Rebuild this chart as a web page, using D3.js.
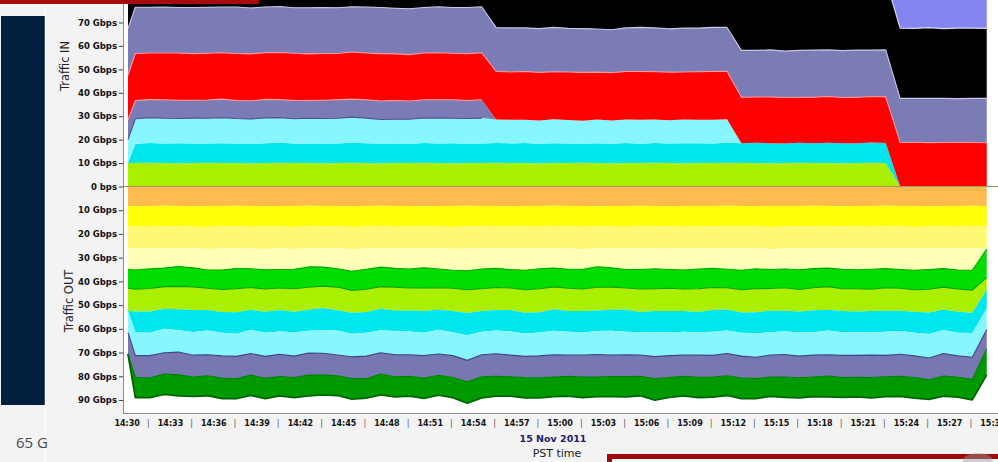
<!DOCTYPE html>
<html>
<head>
<meta charset="utf-8">
<script src="https://cdnjs.cloudflare.com/ajax/libs/d3/7.8.5/d3.min.js"></script>
<style>
  html, body { margin: 0; padding: 0; background: #f3f3f3; overflow: hidden; }
  svg { display: block; }
  .axis text { font-family: "DejaVu Sans", sans-serif; font-weight: bold; fill: #111; }
</style>
</head>
<body>
<svg width="998" height="462"></svg>
<script>
// sample times, minutes after 14:30 (15 Nov 2011, PST)
const minutes = [0.09,
  0.6, 1.6, 2.6, 3.6, 4.6, 5.6, 6.6, 7.6, 8.6, 9.6,
  10.6, 11.6, 12.6, 13.6, 14.6, 15.6, 16.6, 17.6, 18.6, 19.6,
  20.6, 21.6, 22.6, 23.6, 24.6, 25.6, 26.6, 27.6, 28.6, 29.6,
  30.6, 31.6, 32.6, 33.6, 34.6, 35.6, 36.6, 37.6, 38.6, 39.6,
  40.6, 41.6, 42.6, 43.6, 44.6, 45.6, 46.6, 47.6, 48.6, 49.6,
  50.6, 51.6, 52.6, 53.6, 54.6, 55.6, 56.6, 57.6, 58.6, 59.6];

// Traffic IN, Gbps per stacked layer (bottom to top)
const inLime = [10.0,
  10.0, 10.1, 10.0, 9.9, 10.0, 10.1, 10.0, 10.0, 9.9, 10.0,
  10.1, 10.0, 10.0, 9.9, 10.0, 10.1, 10.0, 9.9, 10.0, 10.0,
  10.1, 10.0, 9.9, 10.0, 10.0, 10.1, 10.0, 10.0, 9.9, 10.0,
  10.0, 10.1, 10.0, 9.9, 10.0, 10.0, 10.1, 10.0, 9.9, 10.0,
  10.0, 10.1, 10.0, 10.0, 9.9, 10.0, 10.1, 10.0, 10.0, 9.9,
  10.0, 10.1, 10.0, 0, 0, 0, 0, 0, 0, 0];
const inCyan = [0,
  8.3, 8.5, 8.4, 8.6, 8.4, 8.3, 8.5, 8.4, 8.2, 8.5,
  8.6, 8.4, 8.3, 8.5, 8.4, 8.6, 8.5, 8.3, 8.4, 8.2,
  8.5, 8.4, 8.6, 8.3, 8.4, 8.5, 8.4, 8.6, 8.3, 8.5,
  8.4, 8.2, 8.5, 8.4, 8.6, 8.3, 8.5, 8.4, 8.6, 8.5,
  8.4, 8.6, 8.5, 8.7, 8.6, 8.4, 8.6, 8.5, 8.7, 8.6,
  8.5, 8.7, 8.6, 0, 0, 0, 0, 0, 0, 0];
const inLightCyan = [10.0,
  10.6, 10.8, 10.7, 10.5, 10.8, 10.7, 10.9, 10.6, 10.7, 10.8,
  10.7, 10.5, 10.8, 10.6, 10.7, 10.9, 10.7, 10.4, 10.3, 10.5,
  10.7, 10.8, 10.6, 10.7, 10.8, 10.0, 10.1, 9.9, 10.0, 10.2,
  10.0, 9.8, 10.1, 9.9, 10.0, 10.2, 10.0, 9.9, 10.1, 10.0,
  10.1, 10.0, 0, 0, 0, 0, 0, 0, 0, 0,
  0, 0, 0, 0, 0, 0, 0, 0, 0, 0];
const inSlateLow = [8.5,
  7.8, 7.7, 7.9, 7.8, 7.6, 7.8, 7.9, 7.7, 7.8, 7.9,
  7.7, 7.8, 7.6, 7.8, 7.9, 7.7, 7.8, 7.9, 8.0, 7.8,
  7.7, 7.8, 7.9, 7.7, 7.8, 0, 0, 0, 0, 0,
  0, 0, 0, 0, 0, 0, 0, 0, 0, 0,
  0, 0, 0, 0, 0, 0, 0, 0, 0, 0,
  0, 0, 0, 0, 0, 0, 0, 0, 0, 0];
const inRed = [19.0,
  20.1, 19.9, 20.0, 20.2, 19.9, 20.0, 19.8, 20.1, 20.0, 19.9,
  20.1, 20.2, 19.9, 20.0, 19.8, 20.1, 20.0, 20.2, 19.9, 19.8,
  20.0, 20.1, 19.9, 20.0, 20.1, 20.5, 20.4, 20.6, 20.5, 20.3,
  20.5, 20.6, 20.2, 20.4, 20.5, 20.6, 20.4, 20.5, 20.3, 20.5,
  20.6, 20.5, 19.6, 19.5, 19.7, 19.6, 19.4, 19.6, 19.7, 19.5,
  19.6, 19.5, 19.7, 18.8, 18.9, 18.7, 18.8, 18.9, 18.8, 18.7];
const inSlateHigh = [20.0,
  19.7, 19.5, 19.6, 19.4, 19.7, 19.6, 19.5, 19.8, 19.6, 19.5,
  19.6, 19.4, 19.7, 19.6, 19.5, 19.3, 19.6, 19.7, 19.5, 19.6,
  19.4, 19.6, 19.5, 19.7, 19.6, 18.7, 18.8, 18.6, 18.7, 18.9,
  18.6, 18.7, 18.4, 18.3, 18.6, 18.8, 18.7, 18.5, 18.7, 18.6,
  18.8, 18.7, 20.0, 19.9, 20.1, 19.8, 20.0, 20.1, 19.9, 20.0,
  20.1, 19.9, 20.0, 18.8, 18.7, 18.9, 18.8, 18.6, 18.8, 18.9];
const inBlack = [30.0,
  30.0, 30.0, 30.0, 30.0, 30.0, 30.0, 30.0, 30.0, 30.0, 30.0,
  30.0, 30.0, 30.0, 30.0, 30.0, 30.0, 30.0, 30.0, 30.0, 30.0,
  30.0, 30.0, 30.0, 30.0, 30.0, 30.0, 30.0, 30.0, 30.0, 30.0,
  30.0, 30.0, 30.0, 30.0, 30.0, 30.0, 30.0, 30.0, 30.0, 30.0,
  30.0, 30.0, 30.0, 30.0, 30.0, 30.0, 30.0, 30.0, 30.0, 30.0,
  30.0, 30.0, 30.0, 30.0, 29.9, 30.2, 29.8, 30.1, 30.0, 29.9];
const inBlue = [25,
  25, 25, 25, 25, 25, 25, 25, 25, 25, 25,
  25, 25, 25, 25, 25, 25, 25, 25, 25, 25,
  25, 25, 25, 25, 25, 25, 25, 25, 25, 25,
  25, 25, 25, 25, 25, 25, 25, 25, 25, 25,
  25, 25, 25, 25, 25, 25, 25, 25, 25, 25,
  25, 25, 25, 25, 25, 25, 25, 25, 25, 25];

// Traffic OUT, Gbps per stacked layer (from 0 downwards)
const outOrange = [8.2,
  8.3, 8.2, 8.1, 8.2, 8.3, 8.2, 8.2, 8.1, 8.2, 8.3,
  8.2, 8.2, 8.1, 8.2, 8.2, 8.3, 8.2, 8.1, 8.2, 8.2,
  8.3, 8.2, 8.2, 8.1, 8.2, 8.2, 8.3, 8.2, 8.2, 8.1,
  8.2, 8.2, 8.3, 8.2, 8.2, 8.1, 8.2, 8.3, 8.2, 8.2,
  8.2, 8.1, 8.2, 8.3, 8.2, 8.2, 8.2, 8.1, 8.2, 8.3,
  8.2, 8.2, 8.1, 8.2, 8.2, 8.3, 8.2, 8.2, 8.1, 8.2];
const outYellow = [8.7,
  8.6, 8.8, 8.7, 8.5, 8.7, 8.9, 8.6, 8.7, 8.8, 8.6,
  8.7, 8.9, 8.6, 8.7, 8.5, 8.8, 8.7, 8.6, 8.8, 8.7,
  8.6, 8.7, 8.9, 8.7, 8.6, 8.8, 8.5, 8.7, 8.8, 8.6,
  8.7, 8.8, 8.6, 8.7, 8.9, 8.6, 8.7, 8.5, 8.8, 8.7,
  8.6, 8.8, 8.7, 8.6, 8.9, 8.7, 8.6, 8.8, 8.7, 8.5,
  8.7, 8.8, 8.6, 8.7, 8.9, 8.6, 8.7, 8.8, 8.6, 8.7];
const outLightYellow = [9.2,
  9.3, 9.1, 9.2, 9.4, 9.0, 9.2, 9.3, 9.1, 9.2, 9.4,
  9.1, 9.2, 9.3, 9.0, 9.2, 9.4, 9.1, 9.3, 9.2, 9.0,
  9.3, 9.2, 9.1, 9.4, 9.2, 9.0, 9.3, 9.2, 9.1, 9.3,
  9.2, 9.4, 9.1, 9.2, 9.0, 9.3, 9.2, 9.4, 9.1, 9.2,
  9.3, 9.1, 9.2, 9.0, 9.4, 9.2, 9.3, 9.1, 9.2, 9.3,
  9.1, 9.2, 9.4, 9.2, 9.0, 9.3, 9.1, 9.2, 9.3, 9.2];
const outPale = [8.8,
  9.0, 8.6, 8.4, 7.6, 8.3, 8.9, 9.1, 8.7, 8.5, 8.8,
  9.0, 8.6, 7.9, 8.1, 8.8, 9.2, 8.9, 8.0, 8.3, 8.9,
  8.1, 8.7, 9.1, 9.3, 8.8, 8.5, 8.9, 9.2, 8.6, 8.4,
  8.8, 8.5, 7.8, 8.2, 8.9, 9.0, 8.6, 8.8, 9.1, 8.7,
  8.4, 8.9, 9.2, 8.8, 8.5, 8.7, 9.0, 8.6, 8.3, 8.8,
  9.1, 8.7, 8.5, 8.9, 9.2, 8.8, 8.6, 9.0, 9.3, 0.3];
const outGreen = [8.0,
  8.1, 8.3, 7.8, 8.4, 8.0, 7.7, 8.2, 8.5, 7.9, 8.1,
  7.8, 8.2, 8.6, 8.0, 7.7, 8.1, 8.4, 8.2, 7.9, 8.0,
  8.5, 7.9, 7.6, 8.0, 8.3, 8.1, 7.8, 8.2, 8.4, 7.9,
  8.0, 8.3, 8.7, 8.1, 7.8, 8.2, 8.4, 7.9, 8.0, 8.3,
  8.1, 7.8, 8.2, 8.4, 8.0, 7.9, 8.3, 8.1, 7.8, 8.2,
  8.0, 8.4, 8.1, 7.9, 8.2, 8.3, 7.8, 8.0, 8.4, 12.0];
const outLime = [9.5,
  9.4, 9.7, 9.3, 9.6, 9.8, 9.2, 9.5, 9.9, 9.4, 9.6,
  9.3, 9.7, 9.5, 9.2, 9.8, 9.4, 9.6, 9.3, 9.9, 9.5,
  9.7, 9.2, 9.6, 9.8, 9.4, 9.5, 9.3, 9.7, 9.9, 9.4,
  9.6, 9.3, 9.8, 9.5, 9.2, 9.7, 9.4, 9.6, 9.3, 9.8,
  9.5, 9.2, 9.6, 9.9, 9.4, 9.7, 9.3, 9.5, 9.8, 9.4,
  9.6, 9.2, 9.7, 9.5, 9.3, 9.8, 9.4, 9.6, 9.5, 5.0];
const outCyan = [0.0,
  8.7, 9.0, 8.5, 8.9, 9.2, 8.6, 8.8, 9.1, 8.4, 8.9,
  9.0, 8.6, 8.8, 9.3, 8.5, 8.9, 8.7, 9.1, 8.6, 8.8,
  9.2, 8.5, 8.9, 9.4, 8.7, 8.6, 9.0, 8.8, 8.5, 9.1,
  8.7, 9.0, 8.6, 8.9, 9.2, 8.5, 8.8, 9.0, 8.7, 8.6,
  9.1, 8.8, 8.5, 8.9, 9.0, 8.6, 8.8, 9.2, 8.7, 8.9,
  8.6, 9.0, 8.8, 8.5, 8.9, 9.1, 8.7, 8.8, 8.6, 8.0];
const outLightCyan = [9.2,
  9.9, 9.6, 10.1, 9.2, 9.8, 10.2, 9.7, 9.5, 10.0, 9.9,
  9.6, 10.1, 9.4, 9.8, 10.3, 9.7, 9.9, 9.5, 10.0, 9.8,
  9.6, 10.2, 9.9, 10.6, 9.7, 9.8, 10.0, 9.6, 9.9, 10.1,
  9.8, 9.5, 9.9, 10.2, 9.7, 9.6, 10.4, 9.8, 9.9, 9.6,
  10.0, 9.7, 9.9, 10.1, 9.6, 9.8, 10.0, 9.7, 10.2, 9.8,
  9.9, 9.6, 10.0, 9.8, 9.7, 10.1, 9.9, 9.8, 10.2, 9.0];
const outSlate = [9.0,
  9.1, 9.4, 9.0, 9.6, 9.2, 8.9, 9.3, 9.5, 9.1, 9.2,
  9.4, 9.0, 9.3, 9.1, 8.8, 9.2, 9.5, 9.0, 9.3, 9.1,
  9.4, 9.0, 9.2, 9.0, 9.3, 9.5, 9.1, 8.9, 9.2, 9.4,
  9.0, 9.3, 9.5, 9.1, 9.2, 9.0, 9.4, 9.2, 8.9, 9.3,
  9.1, 9.4, 9.2, 9.0, 9.3, 9.5, 9.1, 9.2, 9.0, 9.3,
  9.2, 9.4, 9.0, 9.3, 9.1, 9.2, 9.5, 9.0, 9.3, 8.0];
const outDarkGreen = [0.0,
  8.6, 8.3, 8.5, 8.9, 8.2, 8.4, 8.7, 8.3, 8.5, 8.6,
  8.2, 8.5, 8.8, 8.4, 8.3, 8.6, 8.2, 8.7, 8.5, 8.4,
  8.6, 8.3, 8.5, 9.0, 8.9, 8.4, 8.2, 8.6, 8.5, 8.3,
  8.4, 8.7, 8.3, 8.5, 8.6, 8.2, 9.0, 8.4, 8.3, 8.6,
  8.5, 8.3, 8.7, 8.4, 8.2, 8.6, 8.5, 8.3, 8.8, 8.4,
  8.3, 8.6, 8.4, 8.5, 8.7, 8.2, 8.5, 8.4, 8.6, 11.0];

const yTicks = [-90, -80, -70, -60, -50, -40, -30, -20, -10, 0, 10, 20, 30, 40, 50, 60, 70];

// edgeWhile: draw the top edge only while the layer above is present
const inLayers = [
  { name: 'lime', values: inLime, fill: '#aaee00', edge: null },
  { name: 'cyan', values: inCyan, fill: '#00e6ef', edge: null },
  { name: 'lightcyan', values: inLightCyan, fill: '#88f6ff', edge: '#50508c', edgeWhile: i => inSlateLow[i] > 0 },
  { name: 'slateLow', values: inSlateLow, fill: '#7b7bb5', edge: '#ff9a9a', edgeWhile: i => inSlateLow[i] > 0 },
  { name: 'red', values: inRed, fill: '#ff0000', edge: '#ff9696' },
  { name: 'slateHigh', values: inSlateHigh, fill: '#7b7bb5', edge: '#c8c8e6' },
  { name: 'black', values: inBlack, fill: '#000000', edge: '#d8d8f4' },
  { name: 'blue', values: inBlue, fill: '#8585ef', edge: null }
];
const outLayers = [
  { name: 'orange', values: outOrange, fill: '#ffbb50', edge: null },
  { name: 'yellow', values: outYellow, fill: '#ffff08', edge: null },
  { name: 'lightyellow', values: outLightYellow, fill: '#fff872', edge: null },
  { name: 'pale', values: outPale, fill: '#ffffb8', edge: '#00a800' },
  { name: 'green', values: outGreen, fill: '#00dd00', edge: '#00a400' },
  { name: 'lime', values: outLime, fill: '#aaee00', edge: null },
  { name: 'cyan', values: outCyan, fill: '#00e6ef', edge: null },
  { name: 'lightcyan', values: outLightCyan, fill: '#88f6ff', edge: '#42428a' },
  { name: 'slate', values: outSlate, fill: '#7777b2', edge: '#008000' },
  { name: 'darkgreen', values: outDarkGreen, fill: '#009a00', edge: '#006400' }
];

const svg = d3.select('svg');
const plot = { left: 123, right: 998, top: 0, bottom: 413 };

const t0 = new Date(2011, 10, 15, 14, 30);
const times = minutes.map(m => new Date(+t0 + m * 60000));

const x = d3.scaleTime()
  .domain([t0, d3.timeMinute.offset(t0, 60)])
  .range([126.7, 992.5]);
const y = d3.scaleLinear()
  .domain([-90, 0, 70])
  .range([400, 186.5, 22.5]);

// page furniture around the chart
svg.append('rect').attr('x', 1).attr('y', 16).attr('width', 44).attr('height', 389).attr('fill', '#02203e');
svg.append('line').attr('x1', 45.5).attr('x2', 45.5).attr('y1', 0).attr('y2', 462)
  .attr('stroke', '#fcfcfc').attr('stroke-width', 1.5);
svg.append('text').attr('x', 16).attr('y', 448)
  .style('font-family', '"Open Sans", sans-serif').style('font-size', '15px').style('fill', '#4a4a4a')
  .text('65 G');

// plot background
svg.append('rect')
  .attr('x', plot.left).attr('y', plot.top)
  .attr('width', plot.right - plot.left).attr('height', plot.bottom - plot.top)
  .attr('fill', '#ffffff');

svg.append('clipPath').attr('id', 'clip')
  .append('rect')
  .attr('x', plot.left + 1).attr('y', plot.top)
  .attr('width', plot.right - plot.left).attr('height', plot.bottom - plot.top - 1);

const chart = svg.append('g').attr('clip-path', 'url(#clip)');

function buildRows(layers) {
  return times.map((t, i) => {
    const row = { t };
    layers.forEach(l => { row[l.name] = l.values[i]; });
    return row;
  });
}

function drawStack(layers, sign) {
  const stacked = d3.stack().keys(layers.map(l => l.name))(buildRows(layers));
  const area = d3.area()
    .x(d => x(d.data.t))
    .y0(d => y(sign * d[0]))
    .y1(d => y(sign * d[1]));

  chart.selectAll(null)
    .data(stacked)
    .join('path')
    .attr('d', area)
    .attr('fill', (d, i) => layers[i].fill);

  stacked.forEach((s, i) => {
    const layer = layers[i];
    if (!layer.edge) return;
    const edge = d3.line()
      .defined((d, j) => layer.edgeWhile ? layer.edgeWhile(j) : true)
      .x(d => x(d.data.t))
      .y(d => y(sign * d[1]));
    chart.append('path')
      .attr('d', edge(s))
      .attr('fill', 'none')
      .attr('stroke', layer.edge)
      .attr('stroke-width', layer.name === 'darkgreen' ? 1.8 : 1.1)
      .attr('stroke-linejoin', 'round');
  });
}

drawStack(inLayers, 1);
drawStack(outLayers, -1);

// zero line
chart.append('line')
  .attr('x1', plot.left).attr('x2', plot.right)
  .attr('y1', y(0)).attr('y2', y(0))
  .attr('stroke', '#a09a60').attr('stroke-width', 1);

// plot frame
svg.append('line').attr('x1', plot.left + 0.5).attr('x2', plot.left + 0.5)
  .attr('y1', 0).attr('y2', plot.bottom).attr('stroke', '#8c8c8c');
svg.append('line').attr('x1', plot.left).attr('x2', plot.right)
  .attr('y1', plot.bottom + 0.5).attr('y2', plot.bottom + 0.5).attr('stroke', '#8c8c8c');

// y axis
const yAxis = d3.axisLeft(y)
  .tickValues(yTicks)
  .tickSize(4)
  .tickPadding(2)
  .tickFormat(v => v === 0 ? '0 bps' : Math.abs(v) + ' Gbps');
const gy = svg.append('g').attr('class', 'axis')
  .attr('transform', `translate(${plot.left},0)`)
  .call(yAxis);
gy.select('.domain').remove();
gy.selectAll('.tick line').attr('stroke', '#444');
gy.selectAll('.tick text').style('font-size', '8.5px');

// x axis with "|" separators between labels
const xTicks = d3.timeMinute.every(3).range(t0, d3.timeMinute.offset(t0, 61));
const xAxis = d3.axisBottom(x)
  .tickValues(xTicks)
  .tickSize(0)
  .tickPadding(7)
  .tickFormat(d3.timeFormat('%H:%M'));
const gx = svg.append('g').attr('class', 'axis')
  .attr('transform', `translate(0,${plot.bottom})`)
  .call(xAxis);
gx.select('.domain').remove();
gx.selectAll('.tick text').style('font-size', '8px');
gx.selectAll('text.sep')
  .data(xTicks.slice(0, -1))
  .join('text')
  .attr('class', 'sep')
  .attr('x', d => x(d3.timeSecond.offset(d, 90)))
  .attr('y', 7)
  .attr('dy', '0.71em')
  .attr('text-anchor', 'middle')
  .style('font-size', '8px')
  .style('font-weight', 'normal')
  .style('fill', '#555')
  .text('|');

// axis titles
const titleFont = '"DejaVu Sans", sans-serif';
svg.append('text')
  .attr('transform', 'translate(69,66) rotate(-90)')
  .attr('text-anchor', 'middle')
  .style('font-family', titleFont).style('font-size', '11.5px').style('fill', '#222')
  .text('Traffic IN');
svg.append('text')
  .attr('transform', 'translate(73,301) rotate(-90)')
  .attr('text-anchor', 'middle')
  .style('font-family', titleFont).style('font-size', '11.5px').style('fill', '#222')
  .text('Traffic OUT');
svg.append('text')
  .attr('x', 553).attr('y', 442)
  .attr('text-anchor', 'middle')
  .style('font-family', titleFont).style('font-size', '9.5px').style('font-weight', 'bold').style('fill', '#1c1c68')
  .text('15 Nov 2011');
svg.append('text')
  .attr('x', 557).attr('y', 457)
  .attr('text-anchor', 'middle')
  .style('font-family', titleFont).style('font-size', '11px').style('fill', '#222')
  .text('PST time');

// red slide bars over the screenshot
svg.append('rect').attr('x', 0).attr('y', 0).attr('width', 259).attr('height', 4).attr('fill', '#a30d0d');
svg.append('rect').attr('x', 607).attr('y', 454).attr('width', 391).attr('height', 8).attr('fill', '#9c0b0b');
svg.append('rect').attr('x', 612).attr('y', 459).attr('width', 386).attr('height', 3).attr('fill', '#f7f7f7');
svg.append('ellipse').attr('cx', 978).attr('cy', 461).attr('rx', 15).attr('ry', 8)
  .attr('fill', '#9a9a9a').attr('opacity', 0.45);
</script>
</body>
</html>
